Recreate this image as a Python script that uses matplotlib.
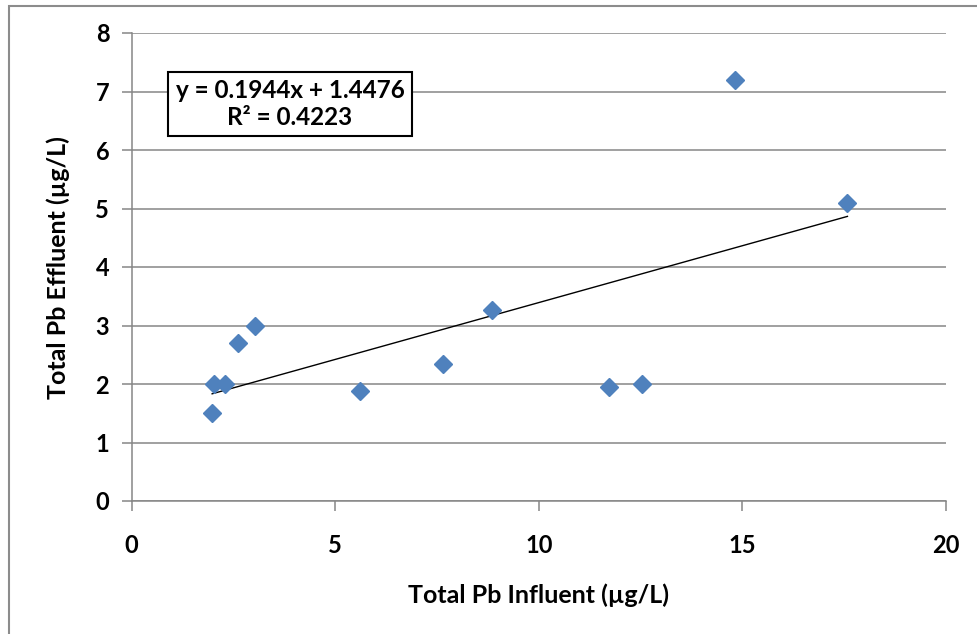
import matplotlib.pyplot as plt
from matplotlib.patches import Rectangle

# influent vs effluent total Pb (ug/L)
influent = [1.98, 2.03, 2.30, 2.62, 3.04, 5.61, 7.64, 8.84, 11.73, 12.53, 14.83, 17.58]
effluent = [1.50, 2.00, 2.00, 2.70, 2.99, 1.88, 2.34, 3.26, 1.95, 2.00, 7.20, 5.09]

slope = 0.1944
intercept = 1.4476
r2 = 0.4223

plt.rcParams['font.family'] = ['Lato', 'DejaVu Sans']

fig = plt.figure(figsize=(9.77, 6.34), dpi=100)
ax = fig.add_axes([131.5 / 977, 1 - 501 / 634, (946 - 131.5) / 977, (501 - 33) / 634])

grid_col = '#868686'
ax.set_xlim(0, 20)
ax.set_ylim(0, 8)
ax.set_xticks([0, 5, 10, 15, 20])
ax.set_yticks(range(0, 9))
ax.yaxis.grid(True, color=grid_col, lw=1.1)
ax.set_axisbelow(True)
for s in ['top', 'right']:
    ax.spines[s].set_visible(False)
for s in ['left', 'bottom']:
    ax.spines[s].set_color(grid_col)
    ax.spines[s].set_linewidth(1.1)
ax.tick_params(axis='both', direction='out', color=grid_col, length=7, width=1.1,
               labelsize=17)
ax.tick_params(axis='x', pad=17)
ax.tick_params(axis='y', pad=9)
for lab in ax.get_xticklabels() + ax.get_yticklabels():
    lab.set_fontweight('bold')

# trendline across the data range
x0, x1 = min(influent), max(influent)
ax.plot([x0, x1], [slope * x0 + intercept, slope * x1 + intercept], color='black', lw=1, zorder=2)

ax.plot(influent, effluent, linestyle='none', marker='D', markersize=9.5,
        color='#4F81BD', markeredgecolor='#4F81BD', zorder=3)

ax.text(0.1946, 0.848, f'y = {slope:.4f}x + {intercept:.4f}\nR\u00b2 = {r2:.4f}',
        transform=ax.transAxes, ha='center', va='center', fontsize=17.5, fontweight='bold',
        multialignment='center', linespacing=1.2,
        bbox=dict(boxstyle='square,pad=0.3', facecolor='white', edgecolor='black', lw=1.5))

fig.text(538 / 977, 1 - 595 / 634, 'Total Pb Influent (\u00b5g/L)', ha='center', va='center',
         fontsize=18, fontweight='bold')
fig.text(58 / 977, 1 - 268 / 634, 'Total Pb Effluent (\u00b5g/L)', ha='center', va='center',
         rotation=90, fontsize=18, fontweight='bold')

# chart area border (right and bottom edges fall outside the image)
fig.patches.append(Rectangle((8.5 / 977, -0.1), 1.2, 1.1 - 6.5 / 634, transform=fig.transFigure,
                             fill=False, edgecolor='#8c8c8c', lw=1.5))

fig.savefig('out.png', dpi=100)
